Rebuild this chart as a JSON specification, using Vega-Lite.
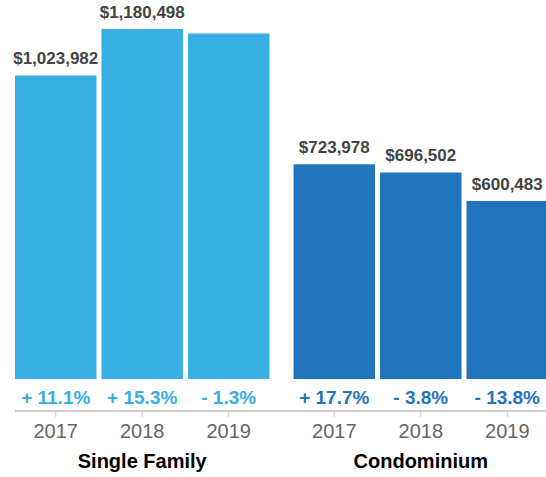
{
  "$schema": "https://vega.github.io/schema/vega-lite/v6.json",
  "width": 533,
  "height": 477,
  "padding": {"left": 15, "top": 0, "right": 0, "bottom": 0},
  "autosize": {"type": "none"},
  "config": {"view": {"stroke": null}, "font": "Liberation Sans"},
  "data": {
    "values": [
      {"group": "Single Family", "year": "2017", "value": 1023982, "label": "$1,023,982", "change": "+ 11.1%"},
      {"group": "Single Family", "year": "2018", "value": 1180498, "label": "$1,180,498", "change": "+ 15.3%"},
      {"group": "Single Family", "year": "2019", "value": 1165000, "label": "", "change": "- 1.3%"},
      {"group": "Condominium", "year": "2017", "value": 723978, "label": "$723,978", "change": "+ 17.7%"},
      {"group": "Condominium", "year": "2018", "value": 696502, "label": "$696,502", "change": "- 3.8%"},
      {"group": "Condominium", "year": "2019", "value": 600483, "label": "$600,483", "change": "- 13.8%"}
    ]
  },
  "encoding": {
    "x": {"field": "group", "type": "nominal", "sort": ["Single Family", "Condominium"], "scale": {"paddingInner": 0.0865, "paddingOuter": 0}, "axis": null},
    "xOffset": {"field": "year", "type": "nominal", "scale": {"paddingInner": 0.058, "paddingOuter": 0}},
    "color": {"field": "group", "type": "nominal", "scale": {"domain": ["Single Family", "Condominium"], "range": ["#38aee3", "#1f74bb"]}, "legend": null}
  },
  "layer": [
    {
      "mark": {"type": "bar"},
      "encoding": {
        "y": {"field": "value", "type": "quantitative", "scale": {"domain": [-330500, 1278300], "nice": false, "zero": false}, "axis": null}
      }
    },
    {
      "mark": {"type": "text", "baseline": "bottom", "dy": -7, "fontSize": 17, "fontWeight": "bold", "color": "#444444"},
      "encoding": {
        "y": {"field": "value", "type": "quantitative"},
        "text": {"field": "label"},
        "color": {"value": "#444444"}
      }
    },
    {
      "mark": {"type": "text", "baseline": "middle", "fontSize": 19, "fontWeight": "bold"},
      "encoding": {
        "y": {"datum": -64000},
        "text": {"field": "change"}
      }
    },
    {
      "mark": {"type": "rule", "color": "#d0d0d0", "strokeWidth": 1.5},
      "encoding": {"y": {"datum": -108000}, "color": {"value": "#d0d0d0"}, "xOffset": null, "x": null}
    },
    {
      "mark": {"type": "rule", "color": "#cccccc", "strokeWidth": 1},
      "encoding": {"y": {"datum": -108000}, "y2": {"datum": -128000}, "color": {"value": "#cccccc"}}
    },
    {
      "mark": {"type": "text", "baseline": "middle", "fontSize": 20, "color": "#666666"},
      "encoding": {
        "y": {"datum": -178800},
        "text": {"field": "year"},
        "color": {"value": "#666666"}
      }
    },
    {
      "data": {"values": [{"group": "Single Family"}, {"group": "Condominium"}]},
      "mark": {"type": "text", "baseline": "middle", "fontSize": 20, "fontWeight": "bold", "color": "#000000"},
      "encoding": {
        "y": {"datum": -280000},
        "xOffset": null,
        "text": {"field": "group"},
        "color": {"value": "#000000"}
      }
    }
  ]
}
